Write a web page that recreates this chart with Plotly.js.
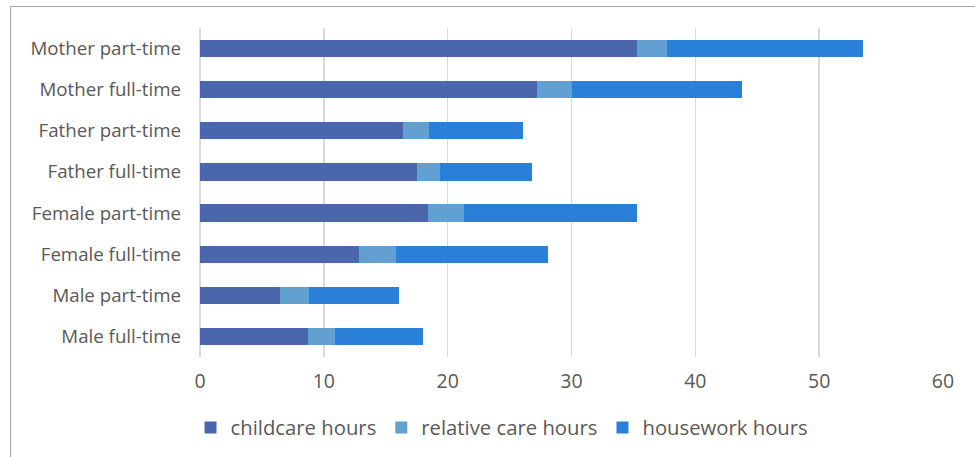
<!DOCTYPE html>
<html><head><meta charset="utf-8">
<script src="https://cdn.plot.ly/plotly-3.0.1.min.js"></script>
<style>
html,body{margin:0;padding:0;background:#fff;}
#frame{position:absolute;left:10px;top:6px;width:1000px;height:500px;border:1px solid #a6a6a6;box-sizing:border-box;pointer-events:none;z-index:5;}
#chart{position:absolute;left:0;top:0;width:975px;height:457px;}
</style></head>
<body>
<div id="chart"></div>
<div id="frame"></div>
<script>
const categories = ["Male full-time","Male part-time","Female full-time","Female part-time","Father full-time","Father part-time","Mother full-time","Mother part-time"];
const childcareHours = [8.7, 6.5, 12.8, 18.4, 17.5, 16.4, 27.2, 35.3];
const relativeCareHours = [2.2, 2.3, 3.0, 2.9, 1.9, 2.1, 2.8, 2.4];
const houseworkHours = [7.1, 7.3, 12.3, 14.0, 7.4, 7.6, 13.8, 15.8];
const seriesNames = ["childcare hours","relative care hours","housework hours"];
const seriesColors = ["#4a67ae","#62a0d2","#2a80d8"];
const xTicks = [0,10,20,30,40,50,60];

const seriesValues = [childcareHours, relativeCareHours, houseworkHours];
const traces = seriesValues.map((vals,i)=>({
  type:'bar', orientation:'h', name:seriesNames[i], x:vals, y:categories,
  marker:{color:seriesColors[i], line:{width:0}}, hoverinfo:'x+y'
}));
const layout = {
  width:975, height:457, barmode:'stack', bargap:0.58,
  margin:{l:200, r:32, t:28, b:100, autoexpand:false},
  paper_bgcolor:'#fff', plot_bgcolor:'#fff',
  font:{family:'"Open Sans", sans-serif', color:'#595959', size:19},
  xaxis:{range:[0,60], tickvals:xTicks, showgrid:true, gridcolor:'#d9d9d9', gridwidth:1.5,
         zeroline:true, zerolinecolor:'#d9d9d9', zerolinewidth:1.5, showline:false, ticks:'',
         ticklen:0, ticklabelstandoff:10, tickfont:{size:19.5, color:'#595959'}, fixedrange:true, automargin:false},
  yaxis:{categoryorder:'array', categoryarray:categories, showgrid:false, zeroline:false, showline:false,
         ticks:'', ticklabelstandoff:18, tickfont:{size:18.7, color:'#595959'}, fixedrange:true, automargin:false},
  legend:{orientation:'h', x:0.4065, xanchor:'center', y:-0.215, yanchor:'middle',
          font:{size:20.3, color:'#595959'}, traceorder:'normal', itemwidth:30},
  showlegend:true
};
Plotly.newPlot('chart', traces, layout, {displayModeBar:false, staticPlot:true});
</script>
</body></html>
